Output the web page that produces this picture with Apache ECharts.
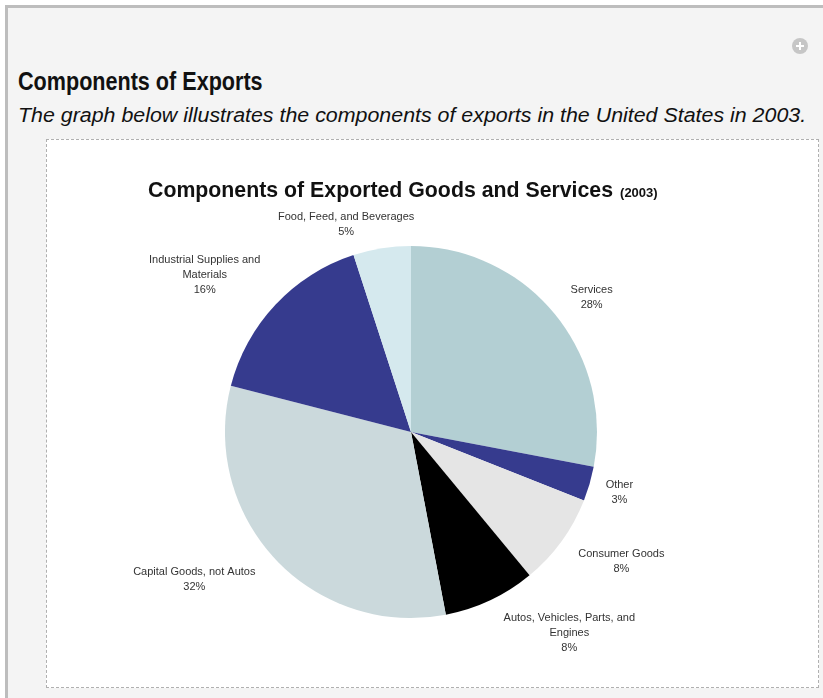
<!DOCTYPE html>
<html>
<head>
<meta charset="utf-8">
<script src="https://cdn.jsdelivr.net/npm/echarts@6/dist/echarts.min.js"></script>
<style>
  html, body { margin: 0; padding: 0; background: #fff; }
  body { width: 823px; height: 698px; position: relative; overflow: hidden; font-family: "Liberation Sans", Arial, sans-serif; }
  #page { position: absolute; left: 5px; top: 5px; right: 0; bottom: 0; background: #f4f4f4;
          border-left: 3px solid #bdbdbd; border-top: 3px solid #bdbdbd; }
  #head { position: absolute; left: 18px; top: 66px; font-size: 26px; font-weight: bold; color: #111;
          transform: scaleX(0.83); transform-origin: left top; white-space: nowrap; }
  #sub { position: absolute; left: 18px; top: 104px; font-size: 20px; font-style: italic; color: #111;
         transform-origin: left top; white-space: nowrap; }
  #plus { position: absolute; left: 792px; top: 38px; width: 16px; height: 16px; border-radius: 50%; background: #c6c6c6; }
  #plus:before { content: ""; position: absolute; left: 4px; top: 7px; width: 8px; height: 2px; background: #fff; }
  #plus:after { content: ""; position: absolute; left: 7px; top: 4px; width: 2px; height: 8px; background: #fff; }
  #box { position: absolute; left: 46px; top: 139px; width: 771px; height: 547px; background: #fff;
         border: 1px dashed #b0b0b0; }
  #chart { width: 771px; height: 547px; }
</style>
</head>
<body>
<div id="page"></div>
<div id="head">Components of Exports</div>
<div id="sub">The graph below illustrates the components of exports in the United States in 2003.</div>
<div id="plus"></div>
<div id="box"><div id="chart"></div></div>
<script>
// Components of exported goods and services, 2003 (percent)
var categories = [
    'Services',
    'Other',
    'Consumer Goods',
    'Autos, Vehicles, Parts, and\nEngines',
    'Capital Goods, not Autos',
    'Industrial Supplies and\nMaterials',
    'Food, Feed, and Beverages'
];
var shares = [28, 3, 8, 8, 32, 16, 5];
var colors = ['#b3cfd3', '#363b8e', '#e5e5e5', '#000000', '#cbd9dc', '#363b8e', '#d5e9ee'];

// where each label sits: distance from centre and angle nudge (deg)
var labelDist = [225, 217, 247, 256, 262, 259, 217];
var labelNudge = [-3, 0, 4.4, 13, -9, 6, 8.4];

var CX = 364, CY = 292, R = 186;

// fit subtitle width to the reference
(function () {
    var s = document.getElementById('sub');
    s.style.transform = 'scaleX(' + (788 / s.scrollWidth) + ')';
})();

var total = shares.reduce(function (a, b) { return a + b; }, 0);
var midAngles = [];
var acc = 0;
shares.forEach(function (v) {
    midAngles.push(90 - (acc + v / 2) / total * 360);
    acc += v;
});

var myChart = echarts.init(document.getElementById('chart'));

var option = {
    animation: false,
    title: {
        text: '{a|Components of Exported Goods and Services} {b|(2003)}',
        left: 96,
        top: 36,
        textStyle: {
            rich: {
                a: { fontFamily: 'Liberation Sans', fontWeight: 'bold', fontSize: 21.3, color: '#111' },
                b: { fontFamily: 'Liberation Sans', fontWeight: 'bold', fontSize: 13, color: '#111', padding: [4, 0, 0, 2] }
            }
        }
    },
    series: [{
        type: 'pie',
        center: [CX, CY],
        radius: [0, R],
        startAngle: 90,
        clockwise: true,
        avoidLabelOverlap: false,
        data: categories.map(function (name, i) {
            return { name: name, value: shares[i], itemStyle: { color: colors[i] } };
        }),
        label: {
            show: true,
            position: 'outside',
            formatter: function (p) { return p.name + '\n' + p.value + '%'; },
            fontFamily: 'Liberation Sans',
            fontSize: 11,
            lineHeight: 15,
            color: '#333',
            align: 'center'
        },
        labelLine: { show: false },
        labelLayout: function (params) {
            var i = params.dataIndex;
            var a = (midAngles[i] + labelNudge[i]) * Math.PI / 180;
            return {
                x: CX + labelDist[i] * Math.cos(a),
                y: CY - labelDist[i] * Math.sin(a),
                align: 'center',
                verticalAlign: 'middle'
            };
        },
        emphasis: { disabled: true }
    }]
};

myChart.setOption(option);
</script>
</body>
</html>
